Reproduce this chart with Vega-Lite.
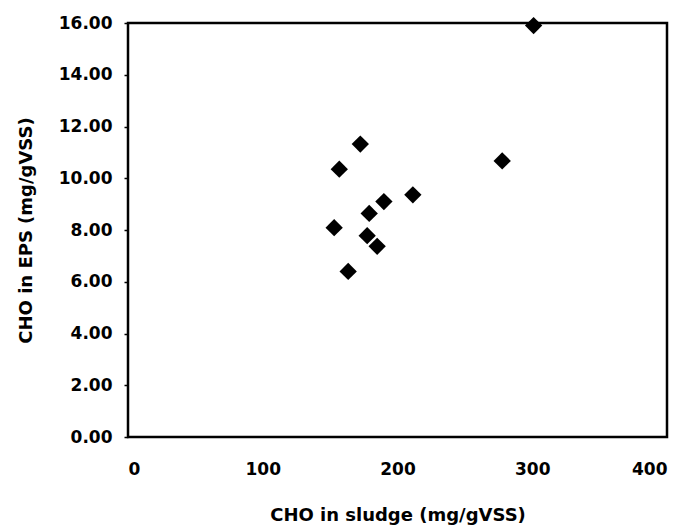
{
  "$schema": "https://vega.github.io/schema/vega-lite/v6.json",
  "width": 539,
  "height": 414,
  "autosize": {"type": "none"},
  "padding": {"left": 128, "top": 23, "right": 18, "bottom": 92},
  "background": "white",
  "config": {
    "view": {"stroke": "black", "strokeWidth": 2.5},
    "font": "DejaVu Sans",
    "axis": {
      "grid": false,
      "domain": false,
      "labelFont": "DejaVu Sans",
      "labelFontWeight": "bold",
      "labelFontSize": 17,
      "labelColor": "black",
      "titleFont": "DejaVu Sans",
      "titleFontWeight": "bold",
      "titleFontSize": 18,
      "titleColor": "black"
    }
  },
  "data": {
    "values": [
      {"sludge": 301, "eps": 15.9},
      {"sludge": 172.4, "eps": 11.32},
      {"sludge": 156.8, "eps": 10.35},
      {"sludge": 277.7, "eps": 10.67},
      {"sludge": 211.4, "eps": 9.36},
      {"sludge": 189.9, "eps": 9.1},
      {"sludge": 179.0, "eps": 8.64},
      {"sludge": 153.0, "eps": 8.09},
      {"sludge": 177.5, "eps": 7.78},
      {"sludge": 184.9, "eps": 7.37},
      {"sludge": 163.4, "eps": 6.4}
    ]
  },
  "mark": {"type": "point", "shape": "diamond", "filled": true, "color": "black", "opacity": 1, "size": 300},
  "encoding": {
    "x": {
      "field": "sludge",
      "type": "quantitative",
      "title": "CHO in sludge (mg/gVSS)",
      "scale": {"domain": [0, 400], "nice": false},
      "axis": {"values": [0, 100, 200, 300, 400], "format": "d", "ticks": false, "labelPadding": 24, "titlePadding": 29}
    },
    "y": {
      "field": "eps",
      "type": "quantitative",
      "title": "CHO in EPS (mg/gVSS)",
      "scale": {"domain": [0, 16], "nice": false},
      "axis": {"values": [0, 2, 4, 6, 8, 10, 12, 14, 16], "format": ".2f", "ticks": true, "tickSize": 4, "tickColor": "black", "tickWidth": 1.5, "labelPadding": 12, "titlePadding": 23}
    }
  }
}
